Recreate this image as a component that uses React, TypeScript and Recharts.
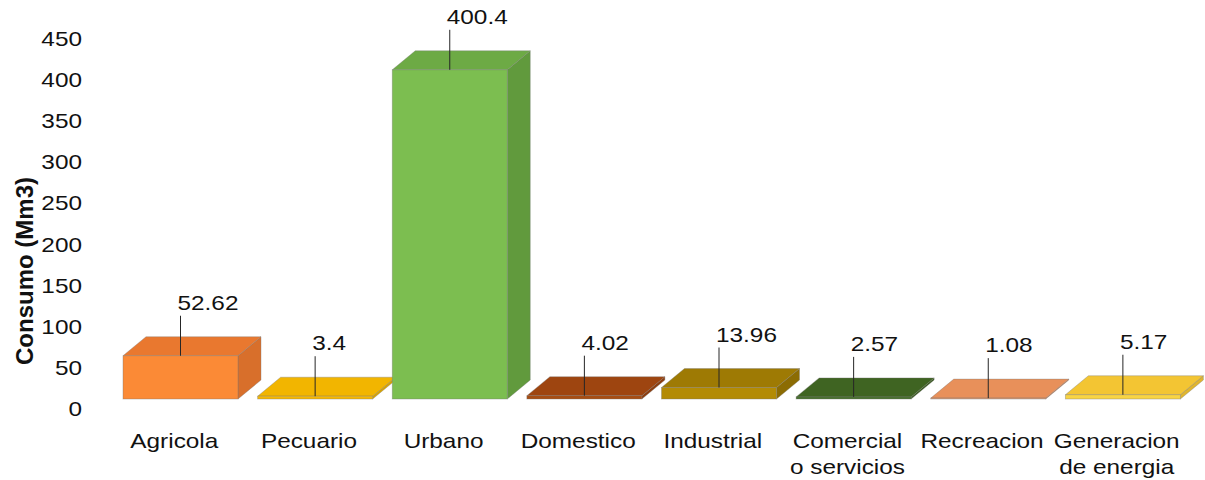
import React from "react";
import { BarChart, Bar, XAxis, YAxis, LabelList, Label } from "recharts";

const categories = [
  "Agricola",
  "Pecuario",
  "Urbano",
  "Domestico",
  "Industrial",
  "Comercial\no servicios",
  "Recreacion",
  "Generacion\nde energia",
];
const consumo = [52.62, 3.4, 400.4, 4.02, 13.96, 2.57, 1.08, 5.17];
const yTicks = [0, 50, 100, 150, 200, 250, 300, 350, 400, 450];

// front / top / side shade for each bar
const frontColors = ["#FB8A36", "#F7B800", "#7CBE50", "#A84D12", "#B38B05", "#46702A", "#EE9560", "#F8D444"];
const topColors = ["#E9782F", "#F2B500", "#6DAA45", "#9E4510", "#9E7A04", "#3F6422", "#E8905A", "#F3C533"];
const sideColors = ["#D86F2B", "#D9A300", "#619A3D", "#8C3D0E", "#8C6C03", "#38591E", "#D88150", "#E0B52E"];

const data = categories.map((name, i) => ({ name, value: consumo[i] }));

const FONT = "'Liberation Sans', Arial, sans-serif";
const STRETCH = 1.16; // reference text is slightly wide
const DX = 23; // depth of the 3d box
const DY = 19;
const LIFT = 10; // front face sits above the axis zero line
const SHIFT = 3;

function Bar3D(props: any) {
  const { x, y, width, height, index } = props;
  const fx = x + SHIFT;
  const fy = y - LIFT;
  const stroke = "rgba(120,120,120,0.45)";
  const top = `${fx},${fy} ${fx + DX},${fy - DY} ${fx + width + DX},${fy - DY} ${fx + width},${fy}`;
  const side = `${fx + width},${fy} ${fx + width + DX},${fy - DY} ${fx + width + DX},${fy - DY + height} ${fx + width},${fy + height}`;
  return (
    <g>
      <polygon points={side} fill={sideColors[index]} stroke={stroke} strokeWidth={0.8} />
      <polygon points={top} fill={topColors[index]} stroke={stroke} strokeWidth={0.8} />
      <rect x={fx} y={fy} width={width} height={Math.max(height, 0.5)} fill={frontColors[index]} stroke={stroke} strokeWidth={0.8} />
    </g>
  );
}

function ValueLabel(props: any) {
  const { x, y, width, value } = props;
  const cx = x + SHIFT + width / 2;
  const frontTop = y - LIFT;
  const lineTop = frontTop - 40;
  return (
    <g>
      <line x1={cx} y1={frontTop} x2={cx} y2={lineTop} stroke="#262626" strokeWidth={1} />
      <text
        transform={`translate(${cx - 3},${lineTop - 6}) scale(${STRETCH},1)`}
        fontFamily={FONT}
        fontSize={21}
        fill="#111"
        textAnchor="start"
      >
        {value}
      </text>
    </g>
  );
}

function XTick(props: any) {
  const { x, y, payload } = props;
  const lines = String(payload.value).split("\n");
  return (
    <g>
      {lines.map((ln, i) => (
        <text
          key={i}
          transform={`translate(${x - 3},${y + 39 + i * 26}) scale(${STRETCH},1)`}
          fontFamily={FONT}
          fontSize={21}
          fill="#111"
          textAnchor="middle"
        >
          {ln}
        </text>
      ))}
    </g>
  );
}

function YTick(props: any) {
  const { y, payload } = props;
  return (
    <text
      transform={`translate(82,${y + 7}) scale(${STRETCH},1)`}
      fontFamily={FONT}
      fontSize={21}
      fill="#111"
      textAnchor="end"
    >
      {payload.value}
    </text>
  );
}

function YTitle() {
  return (
    <text
      transform="translate(33,271) rotate(-90)"
      fontFamily={FONT}
      fontSize={24}
      fontWeight="bold"
      fill="#111"
      textAnchor="middle"
    >
      Consumo (Mm3)
    </text>
  );
}

export default function App() {
  return (
    <div style={{ position: "absolute", left: 0, top: 0, width: 1205, height: 480, background: "#fff" }}>
      <BarChart
        width={1205}
        height={480}
        data={data}
        margin={{ top: 39, right: 18, bottom: 11, left: 8 }}
        barSize={115}
      >
        <XAxis
          dataKey="name"
          axisLine={false}
          tickLine={false}
          tickSize={0}
          tickMargin={0}
          height={60}
          interval={0}
          tick={<XTick />}
        />
        <YAxis
          domain={[0, 450]}
          ticks={yTicks}
          axisLine={false}
          tickLine={false}
          tickSize={0}
          width={102}
          interval={0}
          tick={<YTick />}
        >
          <Label content={<YTitle />} />
        </YAxis>
        <Bar dataKey="value" isAnimationActive={false} shape={<Bar3D />}>
          <LabelList dataKey="value" content={<ValueLabel />} />
        </Bar>
      </BarChart>
    </div>
  );
}
